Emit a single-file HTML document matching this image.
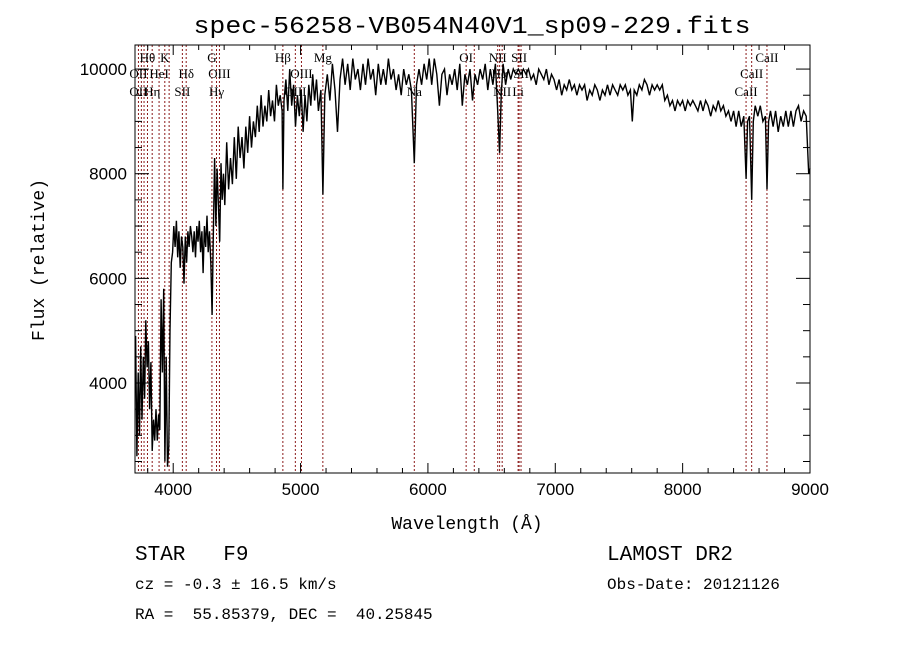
<!DOCTYPE html>
<html><head><meta charset="utf-8"><style>body{margin:0;background:#fff}svg{display:block}</style></head>
<body>
<svg id="chart" width="900" height="649" xmlns="http://www.w3.org/2000/svg">
<rect width="900" height="649" fill="#fff"/>
<text x="472" y="33" text-anchor="middle" font-family="Liberation Mono, monospace" font-size="24" textLength="557" lengthAdjust="spacingAndGlyphs">spec-56258-VB054N40V1_sp09-229.fits</text>
<g id="lines"></g>
<g id="labels" font-family="Liberation Serif, serif" font-size="13"></g>
<path id="spec" fill="none" stroke="#000" stroke-width="1.4"/>
<rect x="135" y="45" width="675" height="428" fill="none" stroke="#000" stroke-width="1"/>
<g id="ticks" stroke="#000" stroke-width="1"></g>
<g id="tl" font-family="Liberation Sans, sans-serif" font-size="17"></g>
<text x="467" y="529" text-anchor="middle" font-family="Liberation Mono, monospace" font-size="18">Wavelength (Å)</text>
<text transform="translate(44,260) rotate(-90)" text-anchor="middle" font-family="Liberation Mono, monospace" font-size="18">Flux (relative)</text>
<text x="135" y="560" font-family="Liberation Mono, monospace" font-size="21" xml:space="preserve">STAR   F9</text>
<text x="607" y="560" font-family="Liberation Mono, monospace" font-size="21">LAMOST DR2</text>
<text x="135" y="589" font-family="Liberation Mono, monospace" font-size="16" xml:space="preserve">cz = -0.3 ± 16.5 km/s</text>
<text x="607" y="589" font-family="Liberation Mono, monospace" font-size="16">Obs-Date: 20121126</text>
<text x="135" y="619" font-family="Liberation Mono, monospace" font-size="16" xml:space="preserve">RA =  55.85379, DEC =  40.25845</text>
</svg>
<script>
const wave=[3705,3715,3725,3735,3745,3755,3765,3775,3785,3795,3805,3815,3825,3835,3845,3855,3865,3875,3885,3895,3905,3915,3925,3935,3945,3955,3965,3975,3985,3995,4005,4015,4025,4035,4045,4055,4065,4075,4085,4095,4105,4115,4125,4135,4145,4155,4165,4175,4185,4195,4205,4215,4225,4235,4245,4255,4265,4275,4285,4295,4305,4315,4325,4335,4345,4355,4365,4375,4385,4395,4405,4420,4435,4450,4465,4480,4495,4510,4525,4540,4555,4570,4585,4600,4615,4630,4645,4660,4675,4690,4705,4720,4735,4750,4765,4780,4795,4810,4825,4840,4855,4861,4870,4885,4900,4915,4930,4945,4960,4975,4990,5005,5020,5035,5050,5065,5080,5095,5110,5125,5140,5160,5175,5190,5210,5230,5250,5270,5290,5310,5330,5350,5370,5390,5410,5430,5450,5470,5490,5510,5530,5550,5570,5590,5610,5630,5650,5670,5690,5710,5730,5750,5770,5790,5810,5830,5850,5870,5893,5910,5930,5950,5970,5990,6010,6030,6050,6070,6090,6110,6130,6150,6170,6190,6210,6230,6250,6270,6290,6310,6330,6350,6370,6390,6410,6430,6450,6470,6490,6510,6530,6548,6563,6575,6590,6610,6630,6650,6670,6690,6710,6730,6750,6770,6790,6810,6830,6850,6870,6890,6910,6930,6950,6970,6990,7010,7030,7050,7070,7090,7110,7130,7150,7170,7190,7210,7230,7250,7270,7290,7310,7330,7350,7370,7390,7410,7430,7450,7470,7490,7510,7530,7550,7570,7590,7605,7620,7640,7660,7680,7700,7720,7740,7760,7780,7800,7820,7840,7860,7880,7900,7920,7940,7960,7980,8000,8020,8040,8060,8080,8100,8120,8140,8160,8180,8200,8220,8240,8260,8280,8300,8320,8340,8360,8380,8400,8420,8440,8460,8480,8498,8510,8525,8542,8555,8570,8590,8610,8630,8650,8662,8675,8690,8710,8730,8750,8770,8790,8810,8830,8850,8870,8890,8910,8930,8950,8970,8990,9000];
const flux=[4900,2600,4200,3000,4700,3300,4500,3700,5200,4300,4800,3500,4400,2700,3300,2900,3500,2900,3400,3100,5600,4200,5800,2500,4500,2400,2800,5000,6300,6500,7000,6600,7100,6400,6900,6200,6800,6600,5900,6800,6300,6900,6600,7000,6800,6500,6900,6400,7000,6700,7100,6500,6900,6100,7000,6600,7200,6500,6900,6300,5300,6800,8300,7000,8100,7400,6700,8200,7500,8000,7400,8600,7700,8300,7800,8700,7900,8900,8300,8700,8100,8900,8400,9100,8500,9000,8700,9300,8800,9500,8900,9300,9000,9600,9100,9400,9000,9700,9300,9500,9200,7700,9400,9800,9200,10000,9300,9700,8900,9500,9100,9600,8800,9500,9000,9700,9300,9900,9400,9800,9200,9600,7600,9500,9900,9400,10100,9600,8800,9800,10200,9700,10100,9600,10200,9800,10000,9600,10100,9700,10200,9800,10000,9500,10100,9700,10000,9700,10200,9800,10000,9600,9900,9500,10000,9700,9900,9600,8200,9700,10000,9700,10100,9800,10200,9700,10200,9900,9300,9900,10000,9500,9900,9700,10000,9600,10100,9300,9900,9700,10000,9400,9900,9700,10000,9800,10100,9600,10000,9700,10100,9200,8400,9500,10100,9700,10000,9800,10000,9900,10000,9900,10000,9900,10000,9800,9900,9700,10000,9900,9800,10000,9700,9900,9800,9600,9800,9500,9700,9600,9800,9600,9700,9500,9700,9600,9700,9400,9600,9500,9700,9600,9400,9600,9500,9700,9500,9700,9600,9500,9700,9600,9700,9500,9600,9000,9600,9500,9700,9600,9800,9700,9500,9700,9600,9700,9600,9700,9400,9500,9300,9400,9200,9400,9300,9400,9200,9400,9300,9400,9300,9200,9400,9200,9400,9300,9100,9300,9200,9400,9200,9300,9100,9200,9000,9200,8900,9200,8900,9100,7900,9000,9100,7500,9000,9300,9100,9300,9000,9100,7700,9000,9200,8900,9200,8800,9100,8900,9200,8900,9200,8900,9200,9300,9000,9200,9100,8000,8100];
const lineWaves=[3727,3750,3771,3798,3835,3889,3934,3968,4072,4102,4304,4340,4363,4861,4959,5007,5175,5893,6300,6364,6548,6563,6583,6708,6716,6731,8498,8542,8662];
const labelText=["Hθ","K","G","Hβ","Mg","OI","NII","SII","CaII","OII","HeI","Hδ","OIII","OIII","Hα","SII","CaII","OII","Hη","SII","Hγ","OIII","Na","NII","Li","CaII"];
const labelWave=[3798,3934,4304,4861,5175,6300,6548,6716,8662,3727,3889,4102,4363,5007,6563,6731,8542,3727,3835,4072,4340,4959,5893,6583,6708,8498];
const labelRow=[0,0,0,0,0,0,0,0,0,1,1,1,1,1,1,1,1,2,2,2,2,2,2,2,2,2];
const xTicks=[4000,5000,6000,7000,8000,9000];
const yTicks=[4000,6000,8000,10000];
const X0=135,X1=810,Y0=473,Y1=45,WMIN=3700,WMAX=9000,FMIN=2280,FMAX=10460;
const xs=w=>X0+(w-WMIN)/(WMAX-WMIN)*(X1-X0);
const ys=f=>Y0-(f-FMIN)/(FMAX-FMIN)*(Y0-Y1);
const NS="http://www.w3.org/2000/svg";
function mk(t,a,p){const e=document.createElementNS(NS,t);for(const k in a)e.setAttribute(k,a[k]);p.appendChild(e);return e;}
let d="";wave.forEach((w,i)=>{d+=(i?"L":"M")+xs(w).toFixed(1)+" "+ys(flux[i]).toFixed(1);});
document.getElementById("spec").setAttribute("d",d);
const lg=document.getElementById("lines");
lineWaves.forEach(w=>{const l=mk("line",{x1:xs(w),x2:xs(w),y1:Y1,y2:Y0,stroke:"#8b1a1a","stroke-width":1,"stroke-dasharray":"2,2"},lg);

});
const lb=document.getElementById("labels");
const rowY=[62,78,96];
labelText.forEach((t,i)=>{const e=mk("text",{x:xs(labelWave[i]),y:rowY[labelRow[i]],"text-anchor":"middle"},lb);e.textContent=t;

});
const tg=document.getElementById("ticks"),tl=document.getElementById("tl");
for(let w=3800;w<=9000;w+=200){const big=w%1000===0,L=big?10:5;
mk("line",{x1:xs(w),x2:xs(w),y1:Y0,y2:Y0-L},tg);mk("line",{x1:xs(w),x2:xs(w),y1:Y1,y2:Y1+L},tg);}
for(let f=2500;f<=10400;f+=500){const big=f%2000===0,L=big?14:7;
mk("line",{x1:X0,x2:X0+L,y1:ys(f),y2:ys(f)},tg);mk("line",{x1:X1,x2:X1-L,y1:ys(f),y2:ys(f)},tg);}
xTicks.forEach(v=>{const e=mk("text",{x:xs(v),y:Y0+22,"text-anchor":"middle"},tl);e.textContent=v;

});
yTicks.forEach(v=>{const e=mk("text",{x:X0-8,y:ys(v)+6,"text-anchor":"end"},tl);e.textContent=v;

});
</script>
</body></html>
